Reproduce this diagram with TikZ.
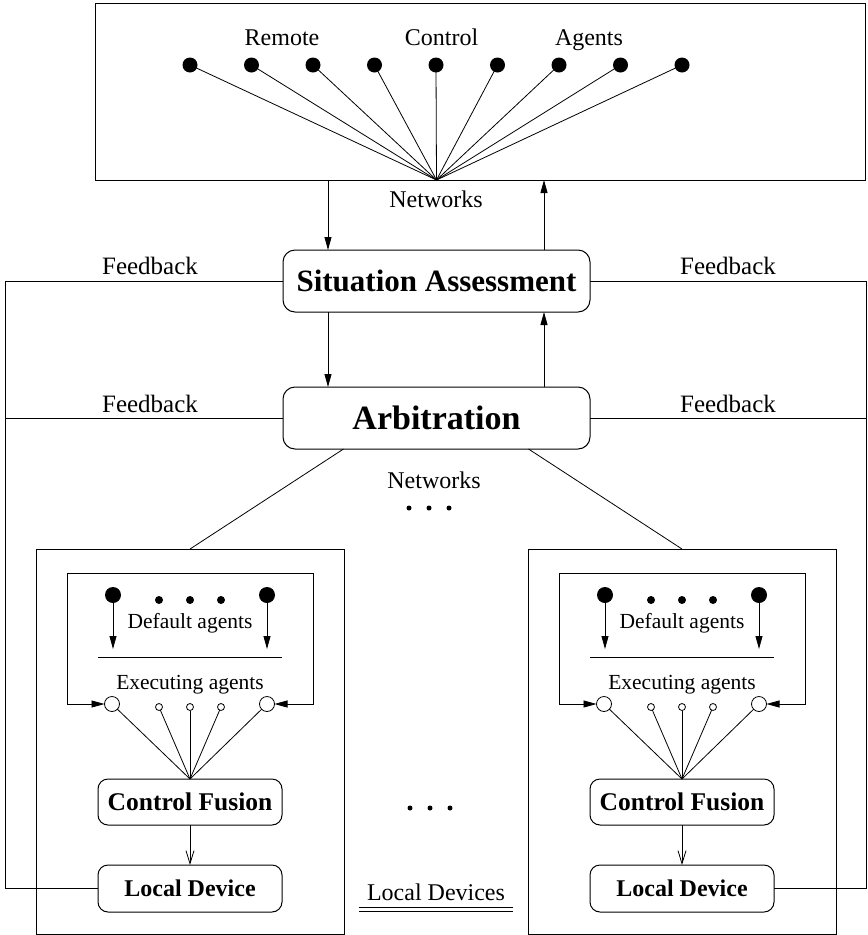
\documentclass[tikz,border=0pt]{standalone}
\usepackage{fontspec}
\setmainfont{Liberation Serif}
\usetikzlibrary{arrows.meta}
\begin{document}
\begin{tikzpicture}[x=1pt,y=-1pt,
  line width=0.8pt,
  every node/.style={inner sep=0pt,outer sep=0pt},
  frame/.style={draw,line width=1pt},
  rbox/.style={draw,line width=1pt,rounded corners=12pt},
  sbox/.style={draw,line width=1pt,rounded corners=10pt,minimum width=184pt},
  lbl/.style={anchor=base,font=\fontsize{24}{28}\selectfont},
  fblbl/.style={anchor=base,font=\fontsize{25}{29}\selectfont},
  slbl/.style={anchor=base,font=\fontsize{21.5}{25}\selectfont},
  bigdot/.style={circle,fill,minimum size=15pt},
  ldot/.style={circle,fill,minimum size=16pt},
  sdot/.style={circle,fill,minimum size=8pt},
  tdot/.style={circle,fill,minimum size=5pt},
  bring/.style={circle,draw,line width=0.8pt,minimum size=15pt},
  sring/.style={circle,draw,line width=0.8pt,minimum size=7pt},
  tip/.style={-{Triangle[length=13pt,width=7pt]}},
  tips/.style={{Triangle[length=13pt,width=7pt]}-{Triangle[length=13pt,width=7pt]}},
  vtip/.style={-{Straight Barb[length=13pt,width=8pt]}}
]
\useasboundingbox (0,0) rectangle (868,935);

% remote control agents
\node[frame,minimum width=770pt,minimum height=177pt] (remote) at (480,91.5) {};
\foreach \i in {0,...,8}
  \node[bigdot] (r\i) at ({190+61.5*\i},65) {};
\node[lbl] (tRemote) at (282,45) {Remote};
\node[lbl] (tControl) at (441.5,45) {Control};
\node[lbl] (tAgents) at (589,45) {Agents};

% central assessment and arbitration
\node[rbox,minimum width=307pt,minimum height=62pt,
      font=\fontsize{31}{35}\selectfont\bfseries] (sa) at (436.5,281) {Situation Assessment};
\node[rbox,minimum width=307pt,minimum height=62pt,
      font=\fontsize{34}{38}\selectfont\bfseries] (arb) at (436.5,418) {Arbitration};

\coordinate (hub) at (remote.south -| sa.north);
\foreach \i in {0,...,8}
  \draw (r\i.center) -- (hub);
\node[lbl] (tNetTop) at (436,207) {Networks};

\coordinate (dnx) at (328,0);
\coordinate (upx) at (544,0);
\draw[tip] (remote.south -| dnx) -- (sa.north -| dnx);
\draw[tip] (sa.north -| upx) -- (remote.south -| upx);
\draw[tip] (sa.south -| dnx) -- (arb.north -| dnx);
\draw[tip] (arb.north -| upx) -- (sa.south -| upx);

% feedback labels
\node[fblbl] (fb1) at (150,274) {Feedback};
\node[fblbl] (fb2) at (728,274) {Feedback};
\node[fblbl] (fb3) at (150,412) {Feedback};
\node[fblbl] (fb4) at (728,412) {Feedback};

\node[lbl] (tNetLow) at (434,488) {Networks};
\node[tdot] (nd1) at (409,508) {};
\node[tdot] (nd2) at (429,508) {};
\node[tdot] (nd3) at (449,508) {};

% local device units
\foreach \s/\ox in {L/0,R/492}{
\begin{scope}[xshift=\ox pt]
  \node[frame,minimum width=308pt,minimum height=385pt] (out\s) at (190,741.5) {};
  \coordinate (ibl\s) at (67,704);
  \coordinate (itl\s) at (67,573);
  \coordinate (itr\s) at (313,573);
  \coordinate (ibr\s) at (313,704);
  \node[ldot] (d1\s) at (113,595) {};
  \node[sdot] (d2\s) at (159,600) {};
  \node[sdot] (d3\s) at (190,600) {};
  \node[sdot] (d4\s) at (221,600) {};
  \node[ldot] (d5\s) at (267,595) {};
  \coordinate (a1\s) at (113,649);
  \coordinate (a5\s) at (267,649);
  \draw[tip] (d1\s.center) -- (a1\s);
  \draw[tip] (d5\s.center) -- (a5\s);
  \node[slbl] (def\s) at (190,628) {Default agents};
  \coordinate (sl\s) at (98,657);
  \coordinate (sr\s) at (282,657);
  \draw (sl\s) -- (sr\s);
  \node[slbl] (exe\s) at (190,689) {Executing agents};
  \node[bring] (e1\s) at (112,704) {};
  \node[sring] (e2\s) at (159,707) {};
  \node[sring] (e3\s) at (190,707) {};
  \node[sring] (e4\s) at (221,707) {};
  \node[bring] (e5\s) at (267,704) {};
  \draw[tips] (e1\s) -- (ibl\s) -- (itl\s) -- (itr\s) -- (ibr\s) -- (e5\s);
  \node[sbox,minimum height=46pt,font=\fontsize{25.5}{29}\selectfont\bfseries] (cf\s) at (190,802) {Control Fusion};
  \node[sbox,minimum height=47pt,font=\fontsize{24}{28}\selectfont\bfseries] (ld\s) at (190,888.5) {Local Device};
  \foreach \j in {1,...,5}
    \draw (e\j\s) -- (cf\s.north);
  \draw[vtip] (cf\s.south) -- (ld\s.north);
\end{scope}
}

% links from arbitration to local units
\draw ([xshift=-93pt]arb.south) -- (outL.north);
\draw ([xshift=92pt]arb.south) -- (outR.north);

% feedback loops
\coordinate (fbL) at (5,888.5);
\coordinate (fbR) at (866,888.5);
\draw (sa.west) -| (fbL) -- (ldL.west);
\draw (arb.west) -- (arb.west -| fbL);
\draw (sa.east) -| (fbR) -- (ldR.east);
\draw (arb.east) -- (arb.east -| fbR);

% local devices caption
\node[tdot] (md1) at (410,808) {};
\node[tdot] (md2) at (430,808) {};
\node[tdot] (md3) at (450,808) {};
\node[lbl] (tLocal) at (436,900) {Local Devices};
\coordinate (u1a) at (359,907);
\coordinate (u1b) at (513,907);
\coordinate (u2a) at (359,911);
\coordinate (u2b) at (513,911);
\draw (u1a) -- (u1b);
\draw (u2a) -- (u2b);
\end{tikzpicture}
\end{document}
